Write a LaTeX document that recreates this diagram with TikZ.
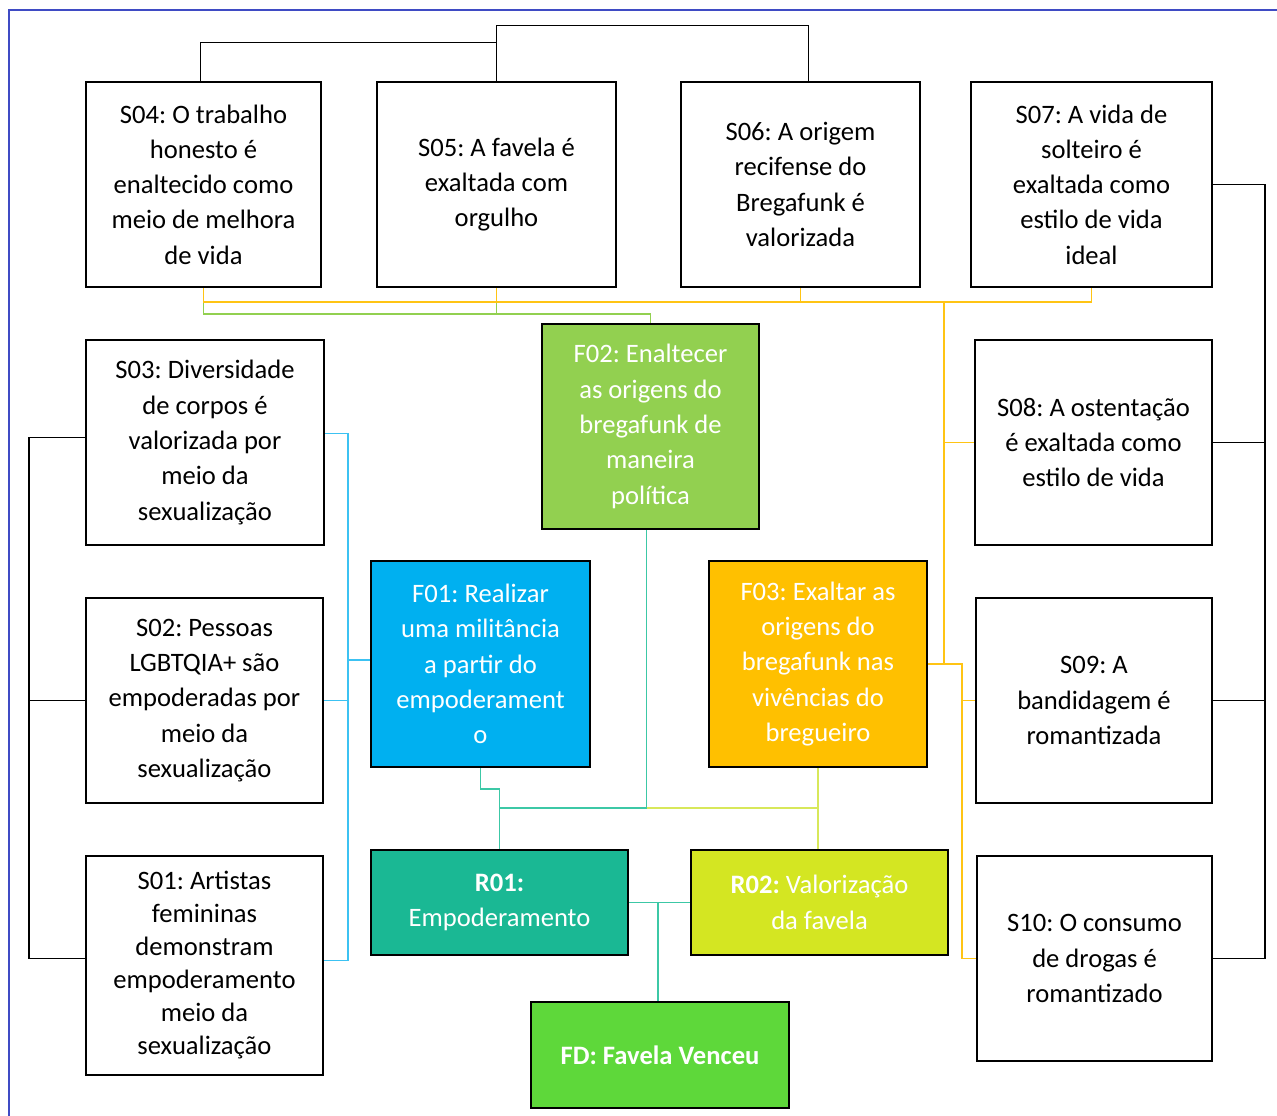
\documentclass[tikz,border=0pt]{standalone}
\usepackage{fontspec}
\setmainfont{Carlito}
\frenchspacing
\usetikzlibrary{calc}
\definecolor{frameblue}{HTML}{3F4BC4}
\definecolor{cF01}{HTML}{00B0F0}
\definecolor{cF02}{HTML}{92D050}
\definecolor{cF03}{HTML}{FFC000}
\definecolor{cR01}{HTML}{1AB894}
\definecolor{cR02}{HTML}{D4E622}
\definecolor{cFD}{HTML}{5ED83A}
\definecolor{lnteal}{HTML}{3CC8A6}
\definecolor{lncyan}{HTML}{3CC2F2}
\definecolor{lnlime}{HTML}{D8E85A}
\definecolor{lnyel}{HTML}{FFC414}
\definecolor{lngrn}{HTML}{92D050}
\tikzset{
  box/.style={draw=black, line width=2.5pt, align=center, inner sep=0pt,
    font=\fontsize{26.6}{35.3}\selectfont},
  sbox/.style={box, fill=white, text=black},
  cbox/.style={box, text=white},
  blk/.style={draw=black, line width=1.2pt},
  cyl/.style={draw=lncyan, line width=1.6pt},
  yel/.style={draw=lnyel, line width=1.4pt},
  yelthick/.style={draw=lnyel, line width=2.4pt},
  grn/.style={draw=lngrn, line width=1.6pt},
  tel/.style={draw=lnteal, line width=1.8pt},
  lim/.style={draw=lnlime, line width=1.6pt},
}
\begin{document}
\begin{tikzpicture}[x=1pt,y=-1pt]
\useasboundingbox (0,0) rectangle (1277,1116);
\fill[white] (0,0) rectangle (1277,1116);
\draw[frameblue, line width=2pt] (9,1116) -- (9,10) -- (1277,10);

% top row
\node[sbox, minimum width=235, minimum height=205] (s04) at (203.5,184.5)
  {S04: O trabalho\\honesto é\\enaltecido como\\meio de melhora\\de vida};
\node[sbox, minimum width=239, minimum height=205] (s05) at (496.5,184.5)
  {S05: A favela é\\exaltada com\\orgulho};
\node[sbox, minimum width=239, minimum height=205] (s06) at (800.5,184.5)
  {S06: A origem\\recifense do\\Bregafunk é\\valorizada};
\node[sbox, minimum width=241, minimum height=205] (s07) at (1091.5,184.5)
  {S07: A vida de\\solteiro é\\exaltada como\\estilo de vida\\ideal};

% second row
\node[sbox, minimum width=238, minimum height=205] (s03) at (205,442.5)
  {S03: Diversidade\\de corpos é\\valorizada por\\meio da\\sexualização};
\node[cbox, fill=cF02, minimum width=217, minimum height=205] (f02) at (650.5,426.5)
  {F02: Enaltecer\\as origens do\\bregafunk de\\maneira\\política};
\node[sbox, minimum width=237, minimum height=205] (s08) at (1093.5,442.5)
  {S08: A ostentação\\é exaltada como\\estilo de vida};

% third row
\node[sbox, minimum width=237, minimum height=205] (s02) at (204.5,700.5)
  {S02: Pessoas\\LGBTQIA+ são\\empoderadas por\\meio da\\sexualização};
\node[cbox, fill=cF01, minimum width=219, minimum height=206] (f01) at (480.5,664)
  {F01: Realizar\\uma militância\\a partir do\\empoderament\\o};
\node[cbox, fill=cF03, minimum width=218, minimum height=206] (f03) at (818,664)
  {F03: Exaltar as\\origens do\\bregafunk nas\\vivências do\\bregueiro};
\node[sbox, minimum width=236, minimum height=205] (s09) at (1094,700.5)
  {S09: A\\bandidagem é\\romantizada};

% bottom rows
\node[sbox, minimum width=237, minimum height=219, font=\fontsize{26.6}{33}\selectfont] (s01) at (204.5,965.5)
  {S01: Artistas\\femininas\\demonstram\\empoderamento\\meio da\\sexualização};
\node[cbox, fill=cR01, minimum width=257, minimum height=105] (r01) at (499.5,902.5)
  {\textbf{R01:}\\Empoderamento};
\node[cbox, fill=cR02, minimum width=257, minimum height=105] (r02) at (819.5,902.5)
  {\textbf{R02:} Valorização\\da favela};
\node[sbox, minimum width=235, minimum height=205] (s10) at (1094.5,958.5)
  {S10: O consumo\\de drogas é\\romantizado};
\node[cbox, fill=cFD, minimum width=258, minimum height=106] (fd) at (660,1055)
  {\textbf{FD: Favela Venceu}};

% coordinates
\coordinate (rb) at (1265,0);
\coordinate (lb) at (29,0);
\coordinate (cb) at (348,0);
\coordinate (yv) at (944,0);
\coordinate (yv2) at (962,0);
\coordinate (yh) at (0,302);
\coordinate (gh) at (0,314);
\coordinate (th) at (0,808);
\coordinate (s03l) at ($(s03.west)+(0,-5)$);
\coordinate (s01l) at ($(s01.west)+(0,-7)$);
\coordinate (s03r) at ($(s03.east)+(0,-9)$);
\coordinate (s01r) at ($(s01.east)+(0,-5)$);
\coordinate (f01l) at ($(f01.west)+(0,-4)$);
\coordinate (s04t) at ($(s04.north)+(-3,0)$);

% black top connectors
\draw[blk] (s04t) |- ($(s05.north)+(0,-38)$);
\draw[blk] (s05.north) |- ($(s06.north)+(8,-55)$) -- ($(s06.north)+(8,0)$);

% right bracket
\draw[blk] (s07.east) -- (s07.east -| rb) -- (s10.east -| rb) -- (s10.east);
\draw[blk] (s08.east) -- (s08.east -| rb);
\draw[blk] (s09.east) -- (s09.east -| rb);

% left bracket
\draw[blk] (s03l) -- (s03l -| lb) -- (s01l -| lb) -- (s01l);
\draw[blk] (s02.west) -- (s02.west -| lb);

% cyan
\draw[cyl] (s03r) -- (s03r -| cb) -- (s01r -| cb) -- (s01r);
\draw[cyl] (s02.east) -- (s02.east -| cb);
\draw[cyl] (f01l) -- (f01l -| cb);

% green
\draw[grn] (s04.south) -- (s04.south |- gh) -| (f02.north);
\draw[grn] (s05.south) -- (s05.south |- gh);

% yellow
\draw[yel] (s04.south) -- (s04.south |- yh) -- (s07.south |- yh) -- (s07.south);
\draw[yel] (s05.south) -- (s05.south |- yh);
\draw[yel] (s06.south) -- (s06.south |- yh);
\draw[yelthick] (s05.south |- yh) -- (yv |- yh) -- (yv |- f03.east) -- (f03.east);
\draw[yel] (yv |- s08.west) -- (s08.west);
\draw[yel] (f03.east) -- (f03.east -| yv2) -- (yv2 |- s10.west) -- (s10.west);
\draw[yel] (yv2 |- s09.west) -- (s09.west);

% teal / lime to results
\draw[tel] (f01.south) -- ++(0,21) -| (r01.north);
\draw[tel] (r01.north |- th) -- ($(f02.south |- th)+(-4,0)$) -- ($(f02.south)+(-4,0)$);
\draw[lim] ($(f02.south |- th)+(-4,0)$) -- (f03.south |- th);
\draw[lim] (f03.south) -- (f03.south |- r02.north);

% results to final
\draw[tel] (r01.east) -- (r02.west);
\draw[tel] ($(fd.north |- r01.east)+(-2,0)$) -- ($(fd.north)+(-2,0)$);
\end{tikzpicture}
\end{document}
